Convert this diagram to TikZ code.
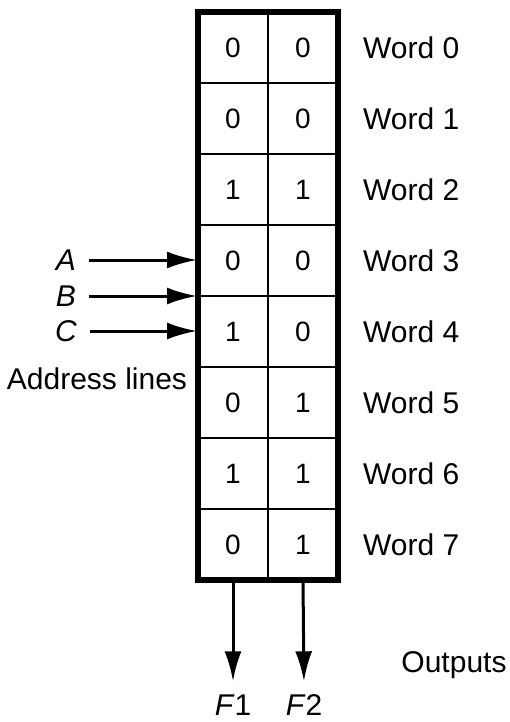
\documentclass[tikz,border=0pt]{standalone}
\usepackage{fontspec}
\setmainfont{Liberation Sans}
\usepackage{tikz}
\usetikzlibrary{arrows.meta,positioning}
\tikzstyle{line} = [draw, line width=1.5pt, -{Latex[length=15pt,width=8.5pt]}]
\tikzstyle{bit} = [font=\fontsize{14}{14}\selectfont]
\tikzstyle{word} = [anchor=west, font=\fontsize{15}{15}\selectfont]
\tikzstyle{lbl} = [font=\fontsize{15}{15}\selectfont]

\begin{document}
\begin{tikzpicture}[x=0.5pt,y=-0.5pt]
		\useasboundingbox (0,0) rectangle (509,722);
		
		% row dividers, rows are 71 high
		\draw[line width=1.2pt] (198,83) -- (338,83);
		\draw[line width=1.2pt] (198,154) -- (338,154);
		\draw[line width=1.2pt] (198,225) -- (338,225);
		\draw[line width=1.2pt] (198,296) -- (338,296);
		\draw[line width=1.2pt] (198,367) -- (338,367);
		\draw[line width=1.2pt] (198,438) -- (338,438);
		\draw[line width=1.2pt] (198,509) -- (338,509);
		\draw[line width=1.2pt] (268,12) -- (268,580); % column divider
		\draw[line width=2.6pt] (198,12) rectangle (338,580); % outer frame
		
		% stored bits, F1 column and F2 column
		\node[bit] (b01) at (233,47.5) {0};  \node[bit] (b02) at (303,47.5) {0};
		\node[bit] (b11) at (233,118.5) {0}; \node[bit] (b12) at (303,118.5) {0};
		\node[bit] (b21) at (233,189.5) {1}; \node[bit] (b22) at (303,189.5) {1};
		\node[bit] (b31) at (233,260.5) {0}; \node[bit] (b32) at (303,260.5) {0};
		\node[bit] (b41) at (233,331.5) {1}; \node[bit] (b42) at (303,331.5) {0};
		\node[bit] (b51) at (233,402.5) {0}; \node[bit] (b52) at (303,402.5) {1};
		\node[bit] (b61) at (233,473.5) {1}; \node[bit] (b62) at (303,473.5) {1};
		\node[bit] (b71) at (233,544.5) {0}; \node[bit] (b72) at (303,544.5) {1};
		
		% word labels
		\node[word] (w0) at (356,47.5) {Word 0};
		\node[word] (w1) at (356,118.5) {Word 1};
		\node[word] (w2) at (356,189.5) {Word 2};
		\node[word] (w3) at (356,260.5) {Word 3};
		\node[word] (w4) at (356,331.5) {Word 4};
		\node[word] (w5) at (356,402.5) {Word 5};
		\node[word] (w6) at (356,473.5) {Word 6};
		\node[word] (w7) at (356,544.5) {Word 7};
		
		% address inputs
		\node[lbl] (A) at (66,260) {\textit{A}};
		\node[lbl] (B) at (66,296) {\textit{B}};
		\node[lbl] (C) at (66,331) {\textit{C}};
		\coordinate (inA) at (197,260);
		\coordinate (inB) at (197,296);
		\coordinate (inC) at (197,331);
		\draw[line, shorten <=3pt] (A.east) -- (inA);
		\draw[line, shorten <=3pt] (B.east |- inB) -- (inB);
		\draw[line, shorten <=3pt] (C.east |- inC) -- (inC);
		\node[lbl] (addr) at (97,379) {Address lines};
		
		% outputs
		\coordinate (out1) at (233,580);
		\coordinate (out2) at (303,580);
		\node[lbl, anchor=base] (F1) at (233,715) {\textit{F}1};
		\node[lbl, anchor=base] (F2) at (304,715) {\textit{F}2};
		\draw[line, shorten >=3pt] (out1) -- (F1);
		\draw[line, shorten >=3pt] (out2) -- (F2 |- F1.north);
		\node[lbl] (outs) at (454,665) {Outputs};
		
\end{tikzpicture}
\end{document}
